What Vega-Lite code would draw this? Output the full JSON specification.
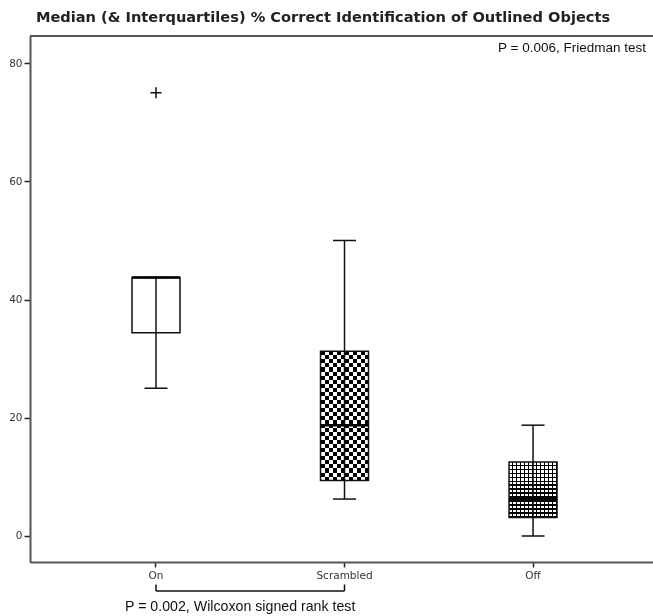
{
  "$schema": "https://vega.github.io/schema/vega-lite/v6.json",
  "width": 624,
  "height": 526,
  "padding": {"left": 8, "top": 10, "right": 0, "bottom": 0},
  "background": "white",
  "title": {
    "text": "Median (& Interquartiles) % Correct Identification of Outlined Objects",
    "font": "DejaVu Sans",
    "fontSize": 14.6,
    "fontWeight": "bold",
    "color": "#222",
    "anchor": "middle",
    "dx": -19,
    "offset": 10
  },
  "config": {
    "view": {"stroke": null},
    "axis": {
      "grid": false,
      "labelFont": "DejaVu Sans",
      "labelFontSize": 10.5,
      "labelColor": "#333",
      "tickColor": "#222",
      "tickWidth": 1.5,
      "domainColor": "#555",
      "domainWidth": 2,
      "title": null
    }
  },
  "datasets": {
    "stats": [
      {"condition": "On", "lower": 25, "q1": 34.375, "median": 43.75, "q3": 43.75, "upper": 43.75},
      {"condition": "Scrambled", "lower": 6.25, "q1": 9.375, "median": 18.75, "q3": 31.25, "upper": 50},
      {"condition": "Off", "lower": 0, "q1": 3.125, "median": 6.25, "q3": 12.5, "upper": 18.75}
    ],
    "outliers": [
      {"condition": "On", "value": 75}
    ],
    "comparison": [
      {"from": "On", "to": "Scrambled"}
    ],
    "single": [
      {}
    ]
  },
  "encoding": {
    "x": {
      "field": "condition",
      "type": "nominal",
      "sort": ["On", "Scrambled", "Off"],
      "scale": {"type": "band", "domain": ["On", "Scrambled", "Off"], "paddingInner": 0, "paddingOuter": 0.155, "align": 0.543},
      "axis": {"labelAngle": 0, "tickSize": 5, "labelPadding": 3}
    }
  },
  "layer": [
    {
      "description": "top frame line",
      "data": {"name": "single"},
      "mark": {"type": "rule", "color": "#555", "strokeWidth": 2},
      "encoding": {
        "x": null,
        "y": {"datum": 84.6, "type": "quantitative", "scale": {"domain": [-4.4, 84.6], "nice": false, "zero": false},
              "axis": {"values": [0, 20, 40, 60, 80], "tickSize": 6, "labelPadding": 2}}
      }
    },
    {
      "description": "Scrambled box: vertical black/white bands",
      "data": {"name": "stats"},
      "transform": [{"filter": "datum.condition === 'Scrambled'"}],
      "mark": {
        "type": "bar", "size": 48, "strokeWidth": 0,
        "fill": {"gradient": "linear", "x1": 0, "y1": 0, "x2": 1, "y2": 0, "stops": [
          {"offset": 0, "color": "#000"}, {"offset": 0.08333, "color": "#000"},
          {"offset": 0.08333, "color": "#fff"}, {"offset": 0.16667, "color": "#fff"},
          {"offset": 0.16667, "color": "#000"}, {"offset": 0.25, "color": "#000"},
          {"offset": 0.25, "color": "#fff"}, {"offset": 0.33333, "color": "#fff"},
          {"offset": 0.33333, "color": "#000"}, {"offset": 0.41667, "color": "#000"},
          {"offset": 0.41667, "color": "#fff"}, {"offset": 0.5, "color": "#fff"},
          {"offset": 0.5, "color": "#000"}, {"offset": 0.58333, "color": "#000"},
          {"offset": 0.58333, "color": "#fff"}, {"offset": 0.66667, "color": "#fff"},
          {"offset": 0.66667, "color": "#000"}, {"offset": 0.75, "color": "#000"},
          {"offset": 0.75, "color": "#fff"}, {"offset": 0.83333, "color": "#fff"},
          {"offset": 0.83333, "color": "#000"}, {"offset": 0.91667, "color": "#000"},
          {"offset": 0.91667, "color": "#fff"}, {"offset": 1, "color": "#fff"}
        ]}
      },
      "encoding": {
        "y": {"field": "q1", "type": "quantitative", "scale": {"domain": [-4.4, 84.6], "nice": false, "zero": false}},
        "y2": {"field": "q3"}
      }
    },
    {
      "description": "Scrambled box: horizontal bands, difference blend turns the two into a checkerboard",
      "data": {"name": "stats"},
      "transform": [{"filter": "datum.condition === 'Scrambled'"}],
      "mark": {
        "type": "bar", "size": 48, "strokeWidth": 0, "blend": "difference",
        "fill": {"gradient": "linear", "x1": 0, "y1": 0, "x2": 0, "y2": 1, "stops": [
          {"offset": 0, "color": "#000"}, {"offset": 0.03125, "color": "#000"},
          {"offset": 0.03125, "color": "#fff"}, {"offset": 0.0625, "color": "#fff"},
          {"offset": 0.0625, "color": "#000"}, {"offset": 0.09375, "color": "#000"},
          {"offset": 0.09375, "color": "#fff"}, {"offset": 0.125, "color": "#fff"},
          {"offset": 0.125, "color": "#000"}, {"offset": 0.15625, "color": "#000"},
          {"offset": 0.15625, "color": "#fff"}, {"offset": 0.1875, "color": "#fff"},
          {"offset": 0.1875, "color": "#000"}, {"offset": 0.21875, "color": "#000"},
          {"offset": 0.21875, "color": "#fff"}, {"offset": 0.25, "color": "#fff"},
          {"offset": 0.25, "color": "#000"}, {"offset": 0.28125, "color": "#000"},
          {"offset": 0.28125, "color": "#fff"}, {"offset": 0.3125, "color": "#fff"},
          {"offset": 0.3125, "color": "#000"}, {"offset": 0.34375, "color": "#000"},
          {"offset": 0.34375, "color": "#fff"}, {"offset": 0.375, "color": "#fff"},
          {"offset": 0.375, "color": "#000"}, {"offset": 0.40625, "color": "#000"},
          {"offset": 0.40625, "color": "#fff"}, {"offset": 0.4375, "color": "#fff"},
          {"offset": 0.4375, "color": "#000"}, {"offset": 0.46875, "color": "#000"},
          {"offset": 0.46875, "color": "#fff"}, {"offset": 0.5, "color": "#fff"},
          {"offset": 0.5, "color": "#000"}, {"offset": 0.53125, "color": "#000"},
          {"offset": 0.53125, "color": "#fff"}, {"offset": 0.5625, "color": "#fff"},
          {"offset": 0.5625, "color": "#000"}, {"offset": 0.59375, "color": "#000"},
          {"offset": 0.59375, "color": "#fff"}, {"offset": 0.625, "color": "#fff"},
          {"offset": 0.625, "color": "#000"}, {"offset": 0.65625, "color": "#000"},
          {"offset": 0.65625, "color": "#fff"}, {"offset": 0.6875, "color": "#fff"},
          {"offset": 0.6875, "color": "#000"}, {"offset": 0.71875, "color": "#000"},
          {"offset": 0.71875, "color": "#fff"}, {"offset": 0.75, "color": "#fff"},
          {"offset": 0.75, "color": "#000"}, {"offset": 0.78125, "color": "#000"},
          {"offset": 0.78125, "color": "#fff"}, {"offset": 0.8125, "color": "#fff"},
          {"offset": 0.8125, "color": "#000"}, {"offset": 0.84375, "color": "#000"},
          {"offset": 0.84375, "color": "#fff"}, {"offset": 0.875, "color": "#fff"},
          {"offset": 0.875, "color": "#000"}, {"offset": 0.90625, "color": "#000"},
          {"offset": 0.90625, "color": "#fff"}, {"offset": 0.9375, "color": "#fff"},
          {"offset": 0.9375, "color": "#000"}, {"offset": 0.96875, "color": "#000"},
          {"offset": 0.96875, "color": "#fff"}, {"offset": 1, "color": "#fff"}
        ]}
      },
      "encoding": {
        "y": {"field": "q1", "type": "quantitative", "scale": {"domain": [-4.4, 84.6], "nice": false, "zero": false}},
        "y2": {"field": "q3"}
      }
    },
    {
      "description": "Off box: vertical grid lines",
      "data": {"name": "stats"},
      "transform": [{"filter": "datum.condition === 'Off'"}],
      "mark": {
        "type": "bar", "size": 48, "strokeWidth": 0,
        "fill": {"gradient": "linear", "x1": 0, "y1": 0, "x2": 1, "y2": 0, "stops": [
          {"offset": 0, "color": "#fff"}, {"offset": 0.05417, "color": "#fff"}, {"offset": 0.05417, "color": "#000"}, {"offset": 0.08333, "color": "#000"},
          {"offset": 0.08333, "color": "#fff"}, {"offset": 0.1375, "color": "#fff"}, {"offset": 0.1375, "color": "#000"}, {"offset": 0.16667, "color": "#000"},
          {"offset": 0.16667, "color": "#fff"}, {"offset": 0.22083, "color": "#fff"}, {"offset": 0.22083, "color": "#000"}, {"offset": 0.25, "color": "#000"},
          {"offset": 0.25, "color": "#fff"}, {"offset": 0.30417, "color": "#fff"}, {"offset": 0.30417, "color": "#000"}, {"offset": 0.33333, "color": "#000"},
          {"offset": 0.33333, "color": "#fff"}, {"offset": 0.3875, "color": "#fff"}, {"offset": 0.3875, "color": "#000"}, {"offset": 0.41667, "color": "#000"},
          {"offset": 0.41667, "color": "#fff"}, {"offset": 0.47083, "color": "#fff"}, {"offset": 0.47083, "color": "#000"}, {"offset": 0.5, "color": "#000"},
          {"offset": 0.5, "color": "#fff"}, {"offset": 0.55417, "color": "#fff"}, {"offset": 0.55417, "color": "#000"}, {"offset": 0.58333, "color": "#000"},
          {"offset": 0.58333, "color": "#fff"}, {"offset": 0.6375, "color": "#fff"}, {"offset": 0.6375, "color": "#000"}, {"offset": 0.66667, "color": "#000"},
          {"offset": 0.66667, "color": "#fff"}, {"offset": 0.72083, "color": "#fff"}, {"offset": 0.72083, "color": "#000"}, {"offset": 0.75, "color": "#000"},
          {"offset": 0.75, "color": "#fff"}, {"offset": 0.80417, "color": "#fff"}, {"offset": 0.80417, "color": "#000"}, {"offset": 0.83333, "color": "#000"},
          {"offset": 0.83333, "color": "#fff"}, {"offset": 0.8875, "color": "#fff"}, {"offset": 0.8875, "color": "#000"}, {"offset": 0.91667, "color": "#000"},
          {"offset": 0.91667, "color": "#fff"}, {"offset": 0.97083, "color": "#fff"}, {"offset": 0.97083, "color": "#000"}, {"offset": 1, "color": "#000"}
        ]}
      },
      "encoding": {
        "y": {"field": "q1", "type": "quantitative", "scale": {"domain": [-4.4, 84.6], "nice": false, "zero": false}},
        "y2": {"field": "q3"}
      }
    },
    {
      "description": "Off box: horizontal grid lines, multiplied over the vertical ones",
      "data": {"name": "stats"},
      "transform": [{"filter": "datum.condition === 'Off'"}],
      "mark": {
        "type": "bar", "size": 48, "strokeWidth": 0, "blend": "multiply",
        "fill": {"gradient": "linear", "x1": 0, "y1": 0, "x2": 0, "y2": 1, "stops": [
          {"offset": 0, "color": "#fff"}, {"offset": 0.04643, "color": "#fff"}, {"offset": 0.04643, "color": "#000"}, {"offset": 0.07143, "color": "#000"},
          {"offset": 0.07143, "color": "#fff"}, {"offset": 0.11786, "color": "#fff"}, {"offset": 0.11786, "color": "#000"}, {"offset": 0.14286, "color": "#000"},
          {"offset": 0.14286, "color": "#fff"}, {"offset": 0.18929, "color": "#fff"}, {"offset": 0.18929, "color": "#000"}, {"offset": 0.21429, "color": "#000"},
          {"offset": 0.21429, "color": "#fff"}, {"offset": 0.26071, "color": "#fff"}, {"offset": 0.26071, "color": "#000"}, {"offset": 0.28571, "color": "#000"},
          {"offset": 0.28571, "color": "#fff"}, {"offset": 0.33214, "color": "#fff"}, {"offset": 0.33214, "color": "#000"}, {"offset": 0.35714, "color": "#000"},
          {"offset": 0.35714, "color": "#fff"}, {"offset": 0.40357, "color": "#fff"}, {"offset": 0.40357, "color": "#000"}, {"offset": 0.42857, "color": "#000"},
          {"offset": 0.42857, "color": "#fff"}, {"offset": 0.475, "color": "#fff"}, {"offset": 0.475, "color": "#000"}, {"offset": 0.5, "color": "#000"},
          {"offset": 0.5, "color": "#fff"}, {"offset": 0.54643, "color": "#fff"}, {"offset": 0.54643, "color": "#000"}, {"offset": 0.57143, "color": "#000"},
          {"offset": 0.57143, "color": "#fff"}, {"offset": 0.61786, "color": "#fff"}, {"offset": 0.61786, "color": "#000"}, {"offset": 0.64286, "color": "#000"},
          {"offset": 0.64286, "color": "#fff"}, {"offset": 0.68929, "color": "#fff"}, {"offset": 0.68929, "color": "#000"}, {"offset": 0.71429, "color": "#000"},
          {"offset": 0.71429, "color": "#fff"}, {"offset": 0.76071, "color": "#fff"}, {"offset": 0.76071, "color": "#000"}, {"offset": 0.78571, "color": "#000"},
          {"offset": 0.78571, "color": "#fff"}, {"offset": 0.83214, "color": "#fff"}, {"offset": 0.83214, "color": "#000"}, {"offset": 0.85714, "color": "#000"},
          {"offset": 0.85714, "color": "#fff"}, {"offset": 0.90357, "color": "#fff"}, {"offset": 0.90357, "color": "#000"}, {"offset": 0.92857, "color": "#000"},
          {"offset": 0.92857, "color": "#fff"}, {"offset": 0.975, "color": "#fff"}, {"offset": 0.975, "color": "#000"}, {"offset": 1, "color": "#000"}
        ]}
      },
      "encoding": {
        "y": {"field": "q1", "type": "quantitative", "scale": {"domain": [-4.4, 84.6], "nice": false, "zero": false}},
        "y2": {"field": "q3"}
      }
    },
    {
      "description": "box outlines (interquartile range)",
      "data": {"name": "stats"},
      "mark": {"type": "bar", "size": 48, "fill": "transparent", "stroke": "#111", "strokeWidth": 1.5},
      "encoding": {
        "y": {"field": "q1", "type": "quantitative", "scale": {"domain": [-4.4, 84.6], "nice": false, "zero": false}},
        "y2": {"field": "q3"}
      }
    },
    {
      "description": "whiskers",
      "data": {"name": "stats"},
      "mark": {"type": "rule", "color": "#111", "strokeWidth": 1.5},
      "encoding": {
        "y": {"field": "lower", "type": "quantitative", "scale": {"domain": [-4.4, 84.6], "nice": false, "zero": false}},
        "y2": {"field": "upper"}
      }
    },
    {
      "description": "lower whisker caps",
      "data": {"name": "stats"},
      "mark": {"type": "tick", "size": 23, "thickness": 1.5, "color": "#111", "opacity": 1},
      "encoding": {
        "y": {"field": "lower", "type": "quantitative", "scale": {"domain": [-4.4, 84.6], "nice": false, "zero": false}}
      }
    },
    {
      "description": "upper whisker caps",
      "data": {"name": "stats"},
      "mark": {"type": "tick", "size": 23, "thickness": 1.5, "color": "#111", "opacity": 1},
      "encoding": {
        "y": {"field": "upper", "type": "quantitative", "scale": {"domain": [-4.4, 84.6], "nice": false, "zero": false}}
      }
    },
    {
      "description": "medians",
      "data": {"name": "stats"},
      "mark": {"type": "tick", "size": 48, "thickness": 2.5, "color": "#000", "opacity": 1},
      "encoding": {
        "y": {"field": "median", "type": "quantitative", "scale": {"domain": [-4.4, 84.6], "nice": false, "zero": false}}
      }
    },
    {
      "description": "outliers drawn as plus signs",
      "data": {"name": "outliers"},
      "mark": {"type": "point", "shape": "M-1,0L1,0M0,-1L0,1", "size": 121, "filled": false, "stroke": "#111", "strokeWidth": 1.5, "opacity": 1},
      "encoding": {
        "y": {"field": "value", "type": "quantitative", "scale": {"domain": [-4.4, 84.6], "nice": false, "zero": false}}
      }
    },
    {
      "description": "comparison bracket: horizontal bar",
      "data": {"name": "comparison"},
      "mark": {"type": "rule", "color": "#111", "strokeWidth": 1.5},
      "encoding": {
        "x": {"field": "from", "type": "nominal"},
        "x2": {"field": "to"},
        "y": {"datum": -9.3, "type": "quantitative", "scale": {"domain": [-4.4, 84.6], "nice": false, "zero": false}}
      }
    },
    {
      "description": "comparison bracket: left leg",
      "data": {"name": "comparison"},
      "mark": {"type": "rule", "color": "#111", "strokeWidth": 1.5},
      "encoding": {
        "x": {"field": "from", "type": "nominal"},
        "y": {"datum": -8.2, "type": "quantitative", "scale": {"domain": [-4.4, 84.6], "nice": false, "zero": false}},
        "y2": {"datum": -9.3}
      }
    },
    {
      "description": "comparison bracket: right leg",
      "data": {"name": "comparison"},
      "mark": {"type": "rule", "color": "#111", "strokeWidth": 1.5},
      "encoding": {
        "x": {"field": "to", "type": "nominal"},
        "y": {"datum": -8.2, "type": "quantitative", "scale": {"domain": [-4.4, 84.6], "nice": false, "zero": false}},
        "y2": {"datum": -9.3}
      }
    },
    {
      "description": "pairwise test result under the bracket",
      "data": {"name": "comparison"},
      "mark": {"type": "text", "text": "P = 0.002, Wilcoxon signed rank test", "font": "Liberation Sans", "fontSize": 14.2, "color": "#111", "align": "left", "baseline": "middle", "dx": -31},
      "encoding": {
        "x": {"field": "from", "type": "nominal"},
        "y": {"datum": -12.0, "type": "quantitative", "scale": {"domain": [-4.4, 84.6], "nice": false, "zero": false}}
      }
    },
    {
      "description": "overall test result, top right",
      "data": {"name": "single"},
      "mark": {"type": "text", "text": "P = 0.006, Friedman test", "font": "Liberation Sans", "fontSize": 13.5, "color": "#111", "align": "right", "baseline": "middle", "x": "width", "dx": -8},
      "encoding": {
        "x": null,
        "y": {"datum": 82.5, "type": "quantitative", "scale": {"domain": [-4.4, 84.6], "nice": false, "zero": false}}
      }
    }
  ]
}
